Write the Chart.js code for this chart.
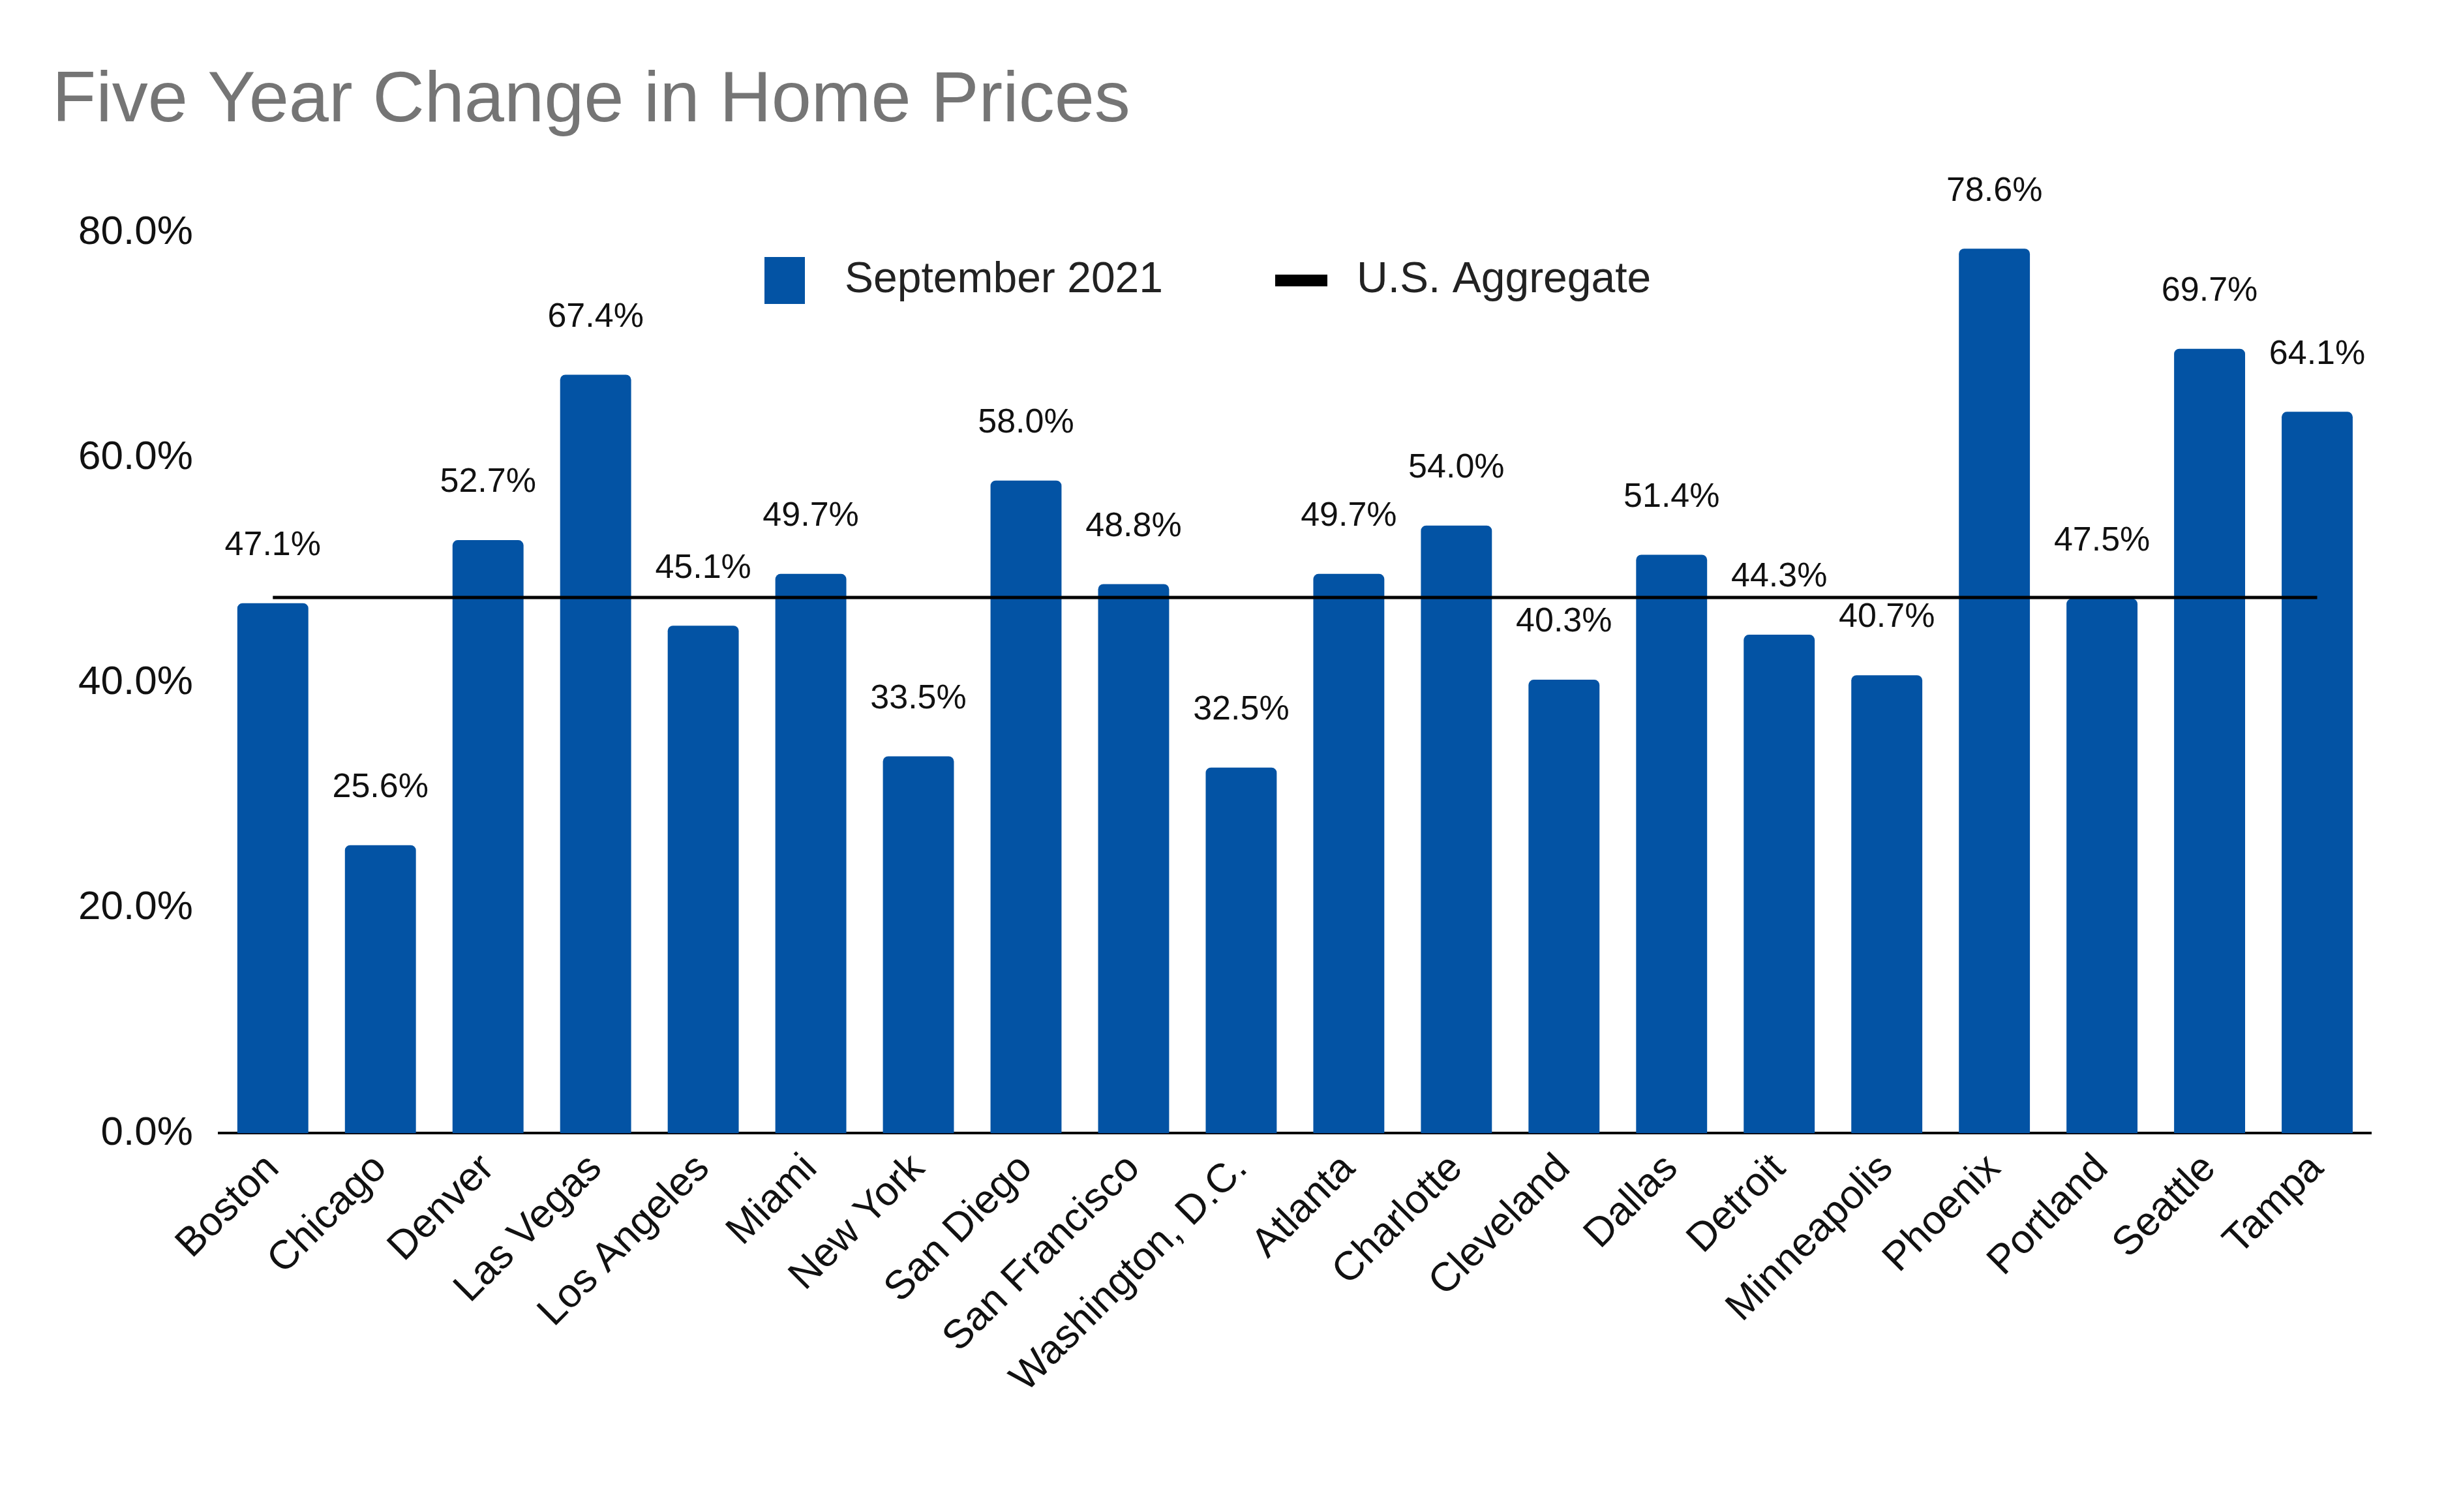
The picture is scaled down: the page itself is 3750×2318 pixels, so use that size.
<!DOCTYPE html>
<html><head><meta charset="utf-8">
<script src="https://cdn.jsdelivr.net/npm/chart.js@4/dist/chart.umd.min.js"></script>
<style>html,body{margin:0;padding:0;background:#fff}#wrap{width:3750px;height:2318px}</style>
</head><body><div id="wrap"><canvas id="c"></canvas></div>
<script>
// categorias e valores
const cities = ["Boston","Chicago","Denver","Las Vegas","Los Angeles","Miami","New York","San Diego","San Francisco","Washington, D.C.","Atlanta","Charlotte","Cleveland","Dallas","Detroit","Minneapolis","Phoenix","Portland","Seattle","Tampa"];
const sept2021 = [47.1,25.6,52.7,67.4,45.1,49.7,33.5,58.0,48.8,32.5,49.7,54.0,40.3,51.4,44.3,40.7,78.6,47.5,69.7,64.1];
const usAggregate = 47.6;
const yTicks = [0,20,40,60,80];

const FONT = "'Liberation Sans', Arial, sans-serif";

// rótulos acima das barras + legenda desenhada dentro da área
const labelsPlugin = {
  id: "labels",
  afterDatasetsDraw(chart) {
    const ctx = chart.ctx;
    const meta = chart.getDatasetMeta(1);
    ctx.save();
    ctx.font = "52px " + FONT;
    ctx.textAlign = "center";
    ctx.textBaseline = "bottom";
    meta.data.forEach((bar, i) => {
      const t = sept2021[i].toFixed(1) + "%";
      const w = ctx.measureText(t).width;
      const y = bar.y - 62;
      ctx.fillStyle = "#fff";
      ctx.fillRect(bar.x - w / 2 - 4, y - 50, w + 8, 50);
      ctx.fillStyle = "#111";
      ctx.fillText(t, bar.x, y);
    });
    // legenda
    const ly = 430;
    ctx.font = "66px " + FONT;
    ctx.textBaseline = "middle";
    ctx.textAlign = "left";
    ctx.fillStyle = "#0353a4";
    ctx.fillRect(1172, ly - 36, 62, 72);
    ctx.fillStyle = "#222";
    ctx.fillText("September 2021", 1295, ly);
    ctx.fillStyle = "#000";
    ctx.fillRect(1955, ly - 9, 80, 18);
    ctx.fillStyle = "#222";
    ctx.fillText("U.S. Aggregate", 2080, ly);
    ctx.restore();
  }
};

new Chart(document.getElementById("c"), {
  data: {
    labels: cities,
    datasets: [
      {
        type: "line",
        label: "U.S. Aggregate",
        data: cities.map(() => usAggregate),
        borderColor: "#000",
        borderWidth: 5,
        pointRadius: 0,
        order: 0
      },
      {
        type: "bar",
        label: "September 2021",
        data: sept2021,
        backgroundColor: "#0353a4",
        borderRadius: {topLeft: 8, topRight: 8},
        borderSkipped: "bottom",
        categoryPercentage: 1,
        barPercentage: 0.66,
        order: 1
      }
    ]
  },
  options: {
    responsive: true,
    maintainAspectRatio: false,
    animation: false,
    devicePixelRatio: 1,
    layout: {padding: {left: 80, right: 115, top: 20, bottom: 150}},
    plugins: {
      legend: {display: false},
      tooltip: {enabled: false},
      title: {
        display: true,
        text: "Five Year Change in Home Prices",
        align: "start",
        color: "#757575",
        font: {family: FONT, size: 110, weight: "normal"},
        padding: {top: 70, bottom: 135}
      }
    },
    scales: {
      x: {
        offset: true,
        grid: {display: false, drawTicks: false},
        border: {color: "#000", width: 4},
        ticks: {
          color: "#111",
          font: {family: FONT, size: 62},
          maxRotation: 45, minRotation: 45,
          padding: 18,
          autoSkip: false
        }
      },
      y: {
        min: 0, max: 80,
        afterBuildTicks(axis) { axis.ticks = yTicks.map(v => ({value: v})); },
        grid: {display: false, drawTicks: false},
        border: {display: false},
        ticks: {
          color: "#111",
          font: {family: FONT, size: 62},
          padding: 40,
          callback: v => v.toFixed(1) + "%"
        }
      }
    }
  },
  plugins: [labelsPlugin]
});
</script></body></html>
